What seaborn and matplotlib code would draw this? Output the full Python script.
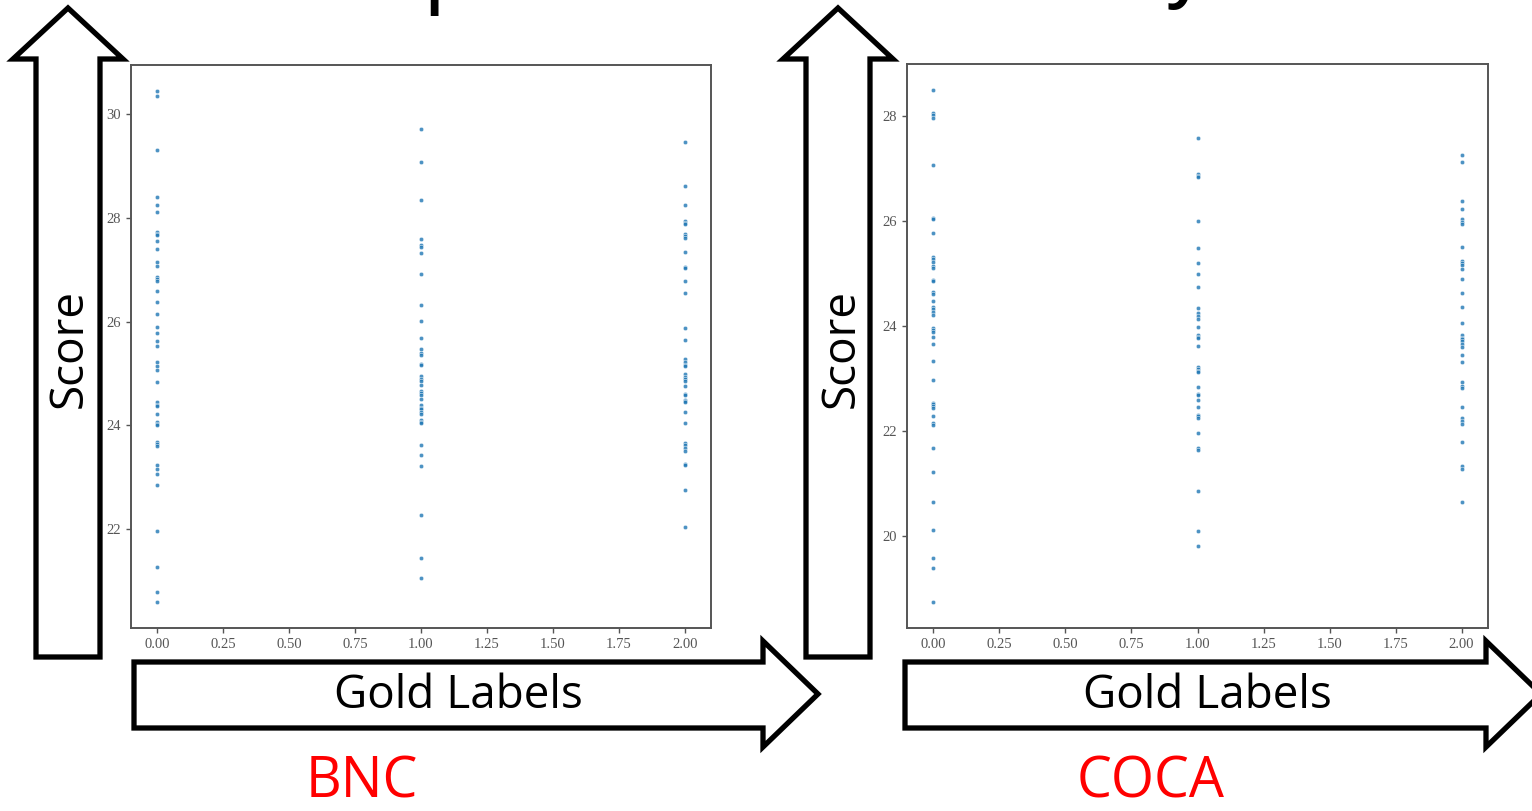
import matplotlib
matplotlib.use("Agg")
import matplotlib.pyplot as plt
from matplotlib.patches import Polygon
import seaborn as sns
import pandas as pd

# ---------------- data ----------------
gold_levels = [0.0, 1.0, 2.0]

bnc_gold0 = [30.46, 30.35, 29.32, 28.40, 28.26, 28.11, 27.73, 27.70, 27.67, 27.56,
             27.41, 27.16, 27.07, 26.86, 26.82, 26.78, 26.60, 26.37, 26.15, 25.90,
             25.78, 25.63, 25.52, 25.23, 25.14, 25.06, 24.84, 24.44, 24.40, 24.37,
             24.21, 24.06, 24.02, 24.00, 23.67, 23.63, 23.60, 23.24, 23.15, 23.06,
             22.84, 21.95, 21.27, 20.78, 20.58]
bnc_gold1 = [29.72, 29.09, 28.35, 27.60, 27.48, 27.45, 27.32, 26.92, 26.32, 26.01,
             25.69, 25.47, 25.39, 25.35, 25.19, 25.16, 24.95, 24.90, 24.85, 24.78,
             24.67, 24.62, 24.58, 24.50, 24.39, 24.34, 24.31, 24.26, 24.21, 24.11,
             24.07, 24.04, 23.61, 23.43, 23.21, 22.27, 21.44, 21.05]
bnc_gold2 = [29.46, 28.61, 28.26, 27.95, 27.91, 27.88, 27.70, 27.65, 27.61, 27.34,
             27.06, 27.03, 26.78, 26.55, 25.87, 25.64, 25.27, 25.22, 25.17, 25.14,
             24.98, 24.94, 24.89, 24.85, 24.76, 24.61, 24.58, 24.48, 24.46, 24.44,
             24.26, 24.04, 23.65, 23.61, 23.56, 23.50, 23.26, 23.24, 22.75, 22.04]

coca_gold0 = [28.51, 28.07, 28.02, 27.97, 27.07, 26.07, 26.05, 25.77, 25.32, 25.28,
              25.23, 25.15, 25.11, 24.88, 24.86, 24.65, 24.62, 24.47, 24.37, 24.32,
              24.26, 24.22, 23.96, 23.92, 23.89, 23.79, 23.65, 23.33, 22.97, 22.54,
              22.51, 22.47, 22.44, 22.29, 22.15, 22.12, 21.67, 21.21, 20.65, 20.11,
              19.57, 19.38, 18.73]
coca_gold1 = [27.58, 26.90, 26.87, 26.84, 26.00, 25.48, 25.21, 25.00, 24.74, 24.34,
              24.25, 24.20, 24.13, 23.99, 23.83, 23.80, 23.77, 23.62, 23.22, 23.19,
              23.14, 23.12, 22.83, 22.70, 22.68, 22.59, 22.46, 22.30, 22.28, 22.25,
              21.96, 21.67, 21.64, 20.85, 20.09, 19.80]
coca_gold2 = [27.27, 27.13, 26.39, 26.23, 26.04, 25.99, 25.94, 25.51, 25.25, 25.20,
              25.16, 25.09, 24.90, 24.64, 24.36, 24.05, 23.83, 23.78, 23.75, 23.71,
              23.66, 23.61, 23.45, 23.31, 22.94, 22.85, 22.81, 22.45, 22.24, 22.19,
              22.14, 21.78, 21.33, 21.28, 20.65]

corpus_names = ["BNC", "COCA"]
x_label = "Gold Labels"
y_label = "Score"


def make_frame(groups):
    rows = []
    for g, vals in zip(gold_levels, groups):
        for v in vals:
            rows.append((g, v))
    return pd.DataFrame(rows, columns=["gold", "score"])


bnc_df = make_frame([bnc_gold0, bnc_gold1, bnc_gold2])
coca_df = make_frame([coca_gold0, coca_gold1, coca_gold2])

# ---------------- figure ----------------
sns.set_style("white")
plt.rcParams["font.family"] = ["Open Sans", "DejaVu Sans"]

W, H = 1532, 811
fig = plt.figure(figsize=(W / 100, H / 100), dpi=100)
fig.patch.set_facecolor("white")


def fx(x):
    return x / W


def fy(y):
    return 1 - y / H


def add_poly(pts):
    poly = Polygon([(fx(x), fy(y)) for x, y in pts], closed=True,
                   transform=fig.transFigure, facecolor="white",
                   edgecolor="black", linewidth=3.8, joinstyle="miter",
                   zorder=0)
    fig.add_artist(poly)


def up_arrow(cx):
    add_poly([(cx - 32, 657), (cx + 32, 657), (cx + 32, 59), (cx + 55, 59),
              (cx, 8), (cx - 55, 59), (cx - 32, 59)])


def right_arrow(x0, x1, tip):
    add_poly([(x0, 662), (x1, 662), (x1, 641), (tip, 694), (x1, 747),
              (x1, 728), (x0, 728)])


up_arrow(68)
up_arrow(838)
right_arrow(134, 763, 818)
right_arrow(905, 1486, 1541)

panels = [
    (bnc_df, (131, 65, 711, 628)),
    (coca_df, (907, 64, 1488, 628)),
]

for df, (l, t, r, b) in panels:
    ax = fig.add_axes([fx(l), fy(b), (r - l) / W, (b - t) / H])
    sns.scatterplot(data=df, x="gold", y="score", ax=ax, s=10,
                    color="#1f77b4", edgecolor="white", linewidth=0.4,
                    alpha=0.8, legend=False)
    ax.set_xlabel("")
    ax.set_ylabel("")
    ax.set_xticks([0, 0.25, 0.5, 0.75, 1.0, 1.25, 1.5, 1.75, 2.0])
    ax.set_xticklabels([f"{v:.2f}" for v in ax.get_xticks()])
    ax.margins(x=0.05, y=0.05)
    ax.tick_params(axis="both", direction="out", length=3.5, width=1,
                   color="#555555", labelcolor="#555555", labelsize=10.5,
                   pad=3.5, bottom=True, left=True)
    for lab in ax.get_xticklabels() + ax.get_yticklabels():
        lab.set_family(["Liberation Serif", "DejaVu Serif"])
    for sp in ax.spines.values():
        sp.set_color("#555555")
        sp.set_linewidth(1.4)
    ax.set_facecolor("white")

# axis labels drawn inside the arrows
for cx in (70, 842):
    fig.text(fx(cx), fy(348), y_label, rotation=90, ha="center", va="center",
             fontsize=33, color="black")
for cx in (458, 1207):
    fig.text(fx(cx), fy(696), x_label, ha="center", va="center",
             fontsize=33, color="black")

# corpus names
for cx, name in zip((362, 1151), corpus_names):
    fig.text(fx(cx), fy(783), name, ha="center", va="center",
             fontsize=40, color="#ff0000")

# cut-off title fragments at the top edge (only descenders visible)
fig.text(fx(446), fy(-1), "p", ha="center", va="baseline", fontsize=50,
         fontweight="semibold", color="black")
fig.text(fx(1186), fy(-7), "y", ha="center", va="baseline", fontsize=50,
         fontweight="semibold", color="black")

fig.savefig("out.png", dpi=100, facecolor="white")
